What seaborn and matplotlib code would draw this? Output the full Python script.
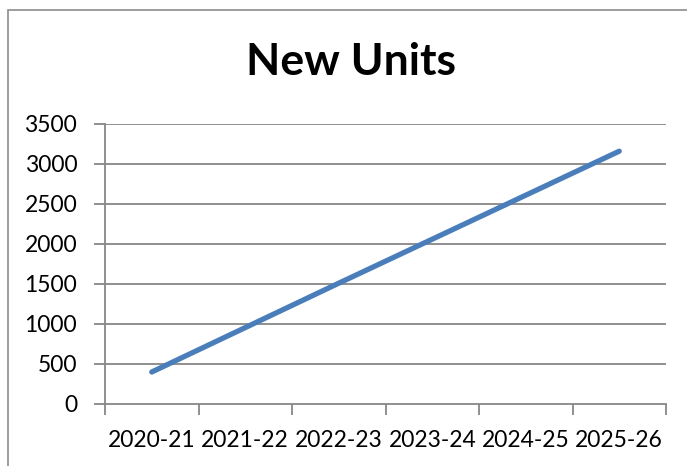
import numpy as np
import pandas as pd
import matplotlib
matplotlib.use("Agg")
import matplotlib.pyplot as plt
import seaborn as sns
from matplotlib.patches import Rectangle

years = ["2020-21", "2021-22", "2022-23", "2023-24", "2024-25", "2025-26"]
new_units = [400, 955, 1510, 2060, 2610, 3160]
y_ticks = [0, 500, 1000, 1500, 2000, 2500, 3000, 3500]

sns.set_style("white")
plt.rcParams['font.family'] = ['Lato', 'DejaVu Sans']
plt.rcParams['text.color'] = 'black'
plt.rcParams['xtick.labelcolor'] = 'black'
plt.rcParams['ytick.labelcolor'] = 'black'

df = pd.DataFrame({"year": years, "units": new_units})
df["pos"] = np.arange(len(years))

fig = plt.figure(figsize=(6.87, 4.66), dpi=100)
ax = fig.add_axes([105 / 687, 62 / 466, 561 / 687, 280 / 466])

grid_col = "#878787"
for v in y_ticks[1:]:
    ax.axhline(v, color=grid_col, lw=1.3, zorder=1)

sns.lineplot(data=df, x="pos", y="units", ax=ax, color="#4a7ebb", lw=3.8,
             solid_capstyle="round", zorder=3)

ax.set_xlim(-0.5, len(years) - 0.5)
ax.set_ylim(0, 3500)
ax.set_yticks(y_ticks)
ax.set_xticks(df["pos"])
ax.set_xticklabels(years)
ax.set_xticks(np.arange(-0.5, len(years)), minor=True)
ax.tick_params(axis="x", which="major", length=0, pad=19, labelsize=16.5,
               labelcolor="black")
ax.tick_params(axis="x", which="minor", length=8, width=1.3, color=grid_col,
               direction="out", bottom=True)
ax.tick_params(axis="y", length=8, width=1.3, color=grid_col, direction="out",
               left=True, pad=12, labelsize=16.5, labelcolor="black")
ax.set_xlabel("")
ax.set_ylabel("")
for s in ["top", "right"]:
    ax.spines[s].set_visible(False)
for s in ["left", "bottom"]:
    ax.spines[s].set_color(grid_col)
    ax.spines[s].set_linewidth(1.3)

fig.text(351 / 687, 1 - 62 / 466, "New Units", ha="center", va="center",
         fontsize=32, fontweight="bold", color="black")

fig.patches.append(Rectangle((8 / 687, -0.1), 1.2, 1.1 - 10 / 466,
                             transform=fig.transFigure, fill=False,
                             edgecolor="#8c8c8c", lw=1.2))

fig.savefig("out.png", dpi=100)
